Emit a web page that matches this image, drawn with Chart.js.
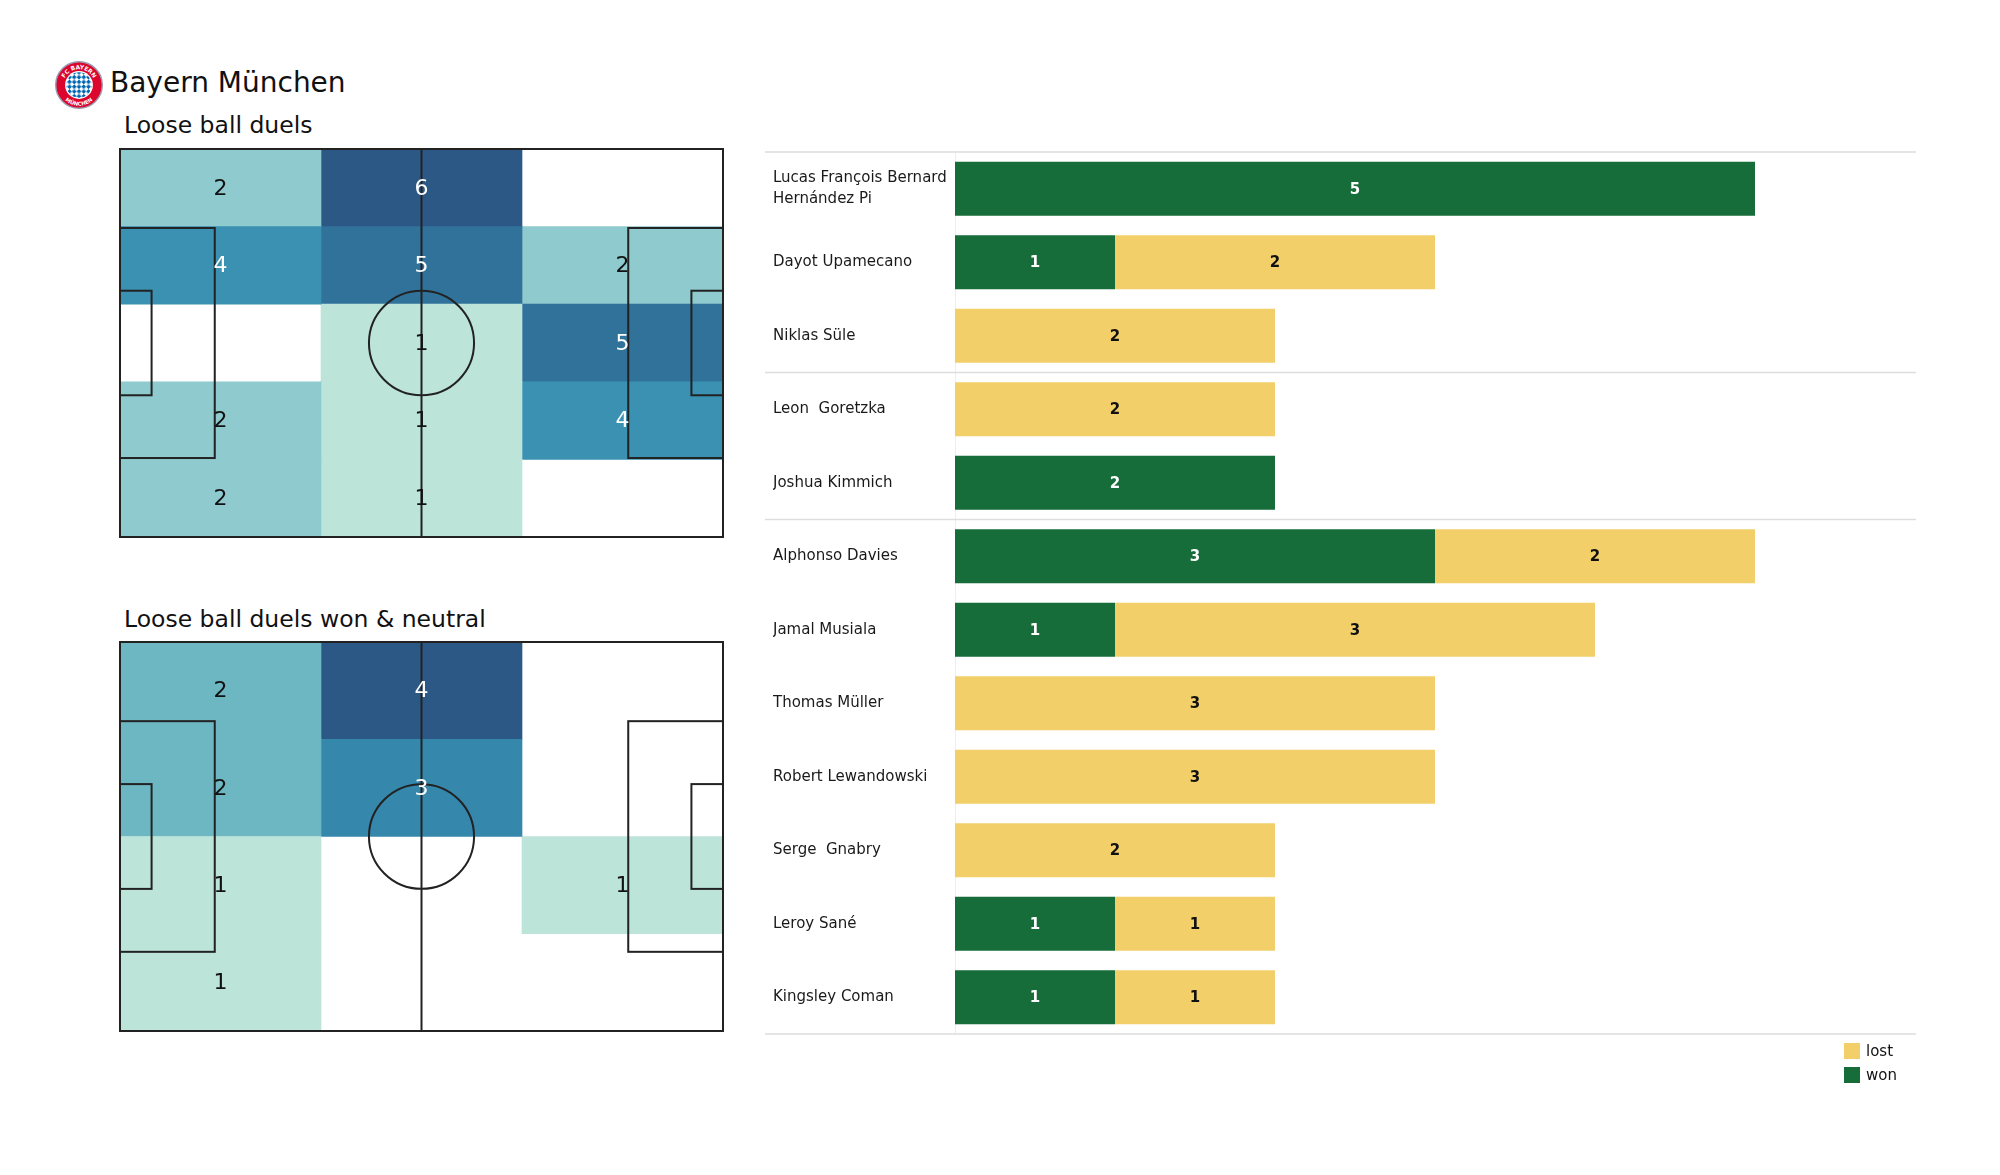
<!DOCTYPE html>
<html>
<head>
<meta charset="utf-8">
<script src="https://cdn.jsdelivr.net/npm/chart.js@4"></script>
<style>
  html, body { margin: 0; padding: 0; background: #fff; }
  body { width: 2000px; height: 1175px; position: relative; overflow: hidden; font-family: "DejaVu Sans", sans-serif; color: #111; }
  .abs { position: absolute; }
  .title { left: 110px; top: 64px; font-size: 28px; line-height: 38px; white-space: nowrap; }
  .sub { left: 124px; font-size: 23.5px; line-height: 30px; white-space: nowrap; }
  .leg { left: 1844px; font-size: 15px; line-height: 16px; white-space: nowrap; }
  .leg span { display: inline-block; width: 16px; height: 16px; vertical-align: top; margin-right: 6px; }
</style>
</head>
<body>
<svg class="abs" style="left:55px;top:61px" width="48" height="48" viewBox="0 0 100 100">
  <defs>
    <path id="arcTop" d="M 17,50 A 33,33 0 1,1 83,50"/>
    <path id="arcBot" d="M 7,50 A 43,43 0 0,0 93,50"/>
    <pattern id="rauten" width="14" height="14" patternUnits="userSpaceOnUse" patternTransform="rotate(45 50 50)">
      <rect width="14" height="14" fill="#fff"/>
      <rect width="7" height="7" fill="#0066b2"/>
      <rect x="7" y="7" width="7" height="7" fill="#0066b2"/>
    </pattern>
  </defs>
  <circle cx="50" cy="50" r="48.5" fill="#dc052d" stroke="#9a9ab0" stroke-width="3"/>
  <circle cx="50" cy="50" r="29" fill="#fff"/>
  <circle cx="50" cy="50" r="26.5" fill="url(#rauten)"/>
  <text font-size="12" font-weight="bold" fill="#fff" font-family="DejaVu Sans" text-anchor="middle"><textPath href="#arcTop" startOffset="50%">FC BAYERN</textPath></text>
  <text font-size="11" font-weight="bold" fill="#fff" font-family="DejaVu Sans" text-anchor="middle"><textPath href="#arcBot" startOffset="50%">MÜNCHEN</textPath></text>
</svg>
<div class="abs title">Bayern München</div>
<div class="abs sub" style="top:110px">Loose ball duels</div>
<div class="abs sub" style="top:604px">Loose ball duels won &amp; neutral</div>

<canvas id="pitch1" class="abs" style="left:116px;top:145px" width="611" height="396"></canvas>
<canvas id="pitch2" class="abs" style="left:116px;top:638px" width="611" height="397"></canvas>
<canvas id="bars" class="abs" style="left:765px;top:140px" width="1155" height="906"></canvas>

<div class="abs leg" style="top:1043px"><span style="background:#f2cf68"></span>lost</div>
<div class="abs leg" style="top:1067px"><span style="background:#166d3a"></span>won</div>

<script>
// ---------- DATA ----------
// Loose ball duels: counts per zone, rows top -> bottom, by pitch third
const duelsLeft   = [2, 4, 0, 2, 2];
const duelsMiddle = [6, 5, 1, 1, 1];
const duelsRight  = [0, 2, 5, 4, 0];
// Loose ball duels won & neutral
const wonNeutralLeft   = [2, 2, 1, 1];
const wonNeutralMiddle = [4, 3, 0, 0];
const wonNeutralRight  = [0, 0, 1, 0];

const players = [
  ['Lucas François Bernard', 'Hernández Pi'],
  'Dayot Upamecano',
  'Niklas Süle',
  'Leon  Goretzka',
  'Joshua Kimmich',
  'Alphonso Davies',
  'Jamal Musiala',
  'Thomas Müller',
  'Robert Lewandowski',
  'Serge  Gnabry',
  'Leroy Sané',
  'Kingsley Coman'
];
const won  = [5, 1, 0, 0, 2, 3, 1, 0, 0, 0, 1, 1];
const lost = [0, 2, 2, 2, 0, 2, 3, 3, 3, 2, 1, 1];
const groupSizes = [3, 2, 7];

// ---------- STYLE ----------
const GREEN = '#166d3a';
const YELLOW = '#f2cf68';
const LINE = '#222222';
const FONT = 'DejaVu Sans';
const cmapStops = [
  [0.0, '#bde4d9'], [0.2, '#8ecace'], [0.333, '#6db7c3'], [0.6, '#3a91b2'],
  [0.667, '#3587ac'], [0.8, '#30729a'], [1.0, '#2c5886']
];
function hex2rgb(h) { return [1, 3, 5].map(i => parseInt(h.substr(i, 2), 16)); }
function cmap(t) {
  t = Math.max(0, Math.min(1, t));
  for (let i = 1; i < cmapStops.length; i++) {
    const [t1, c1] = cmapStops[i];
    const [t0, c0] = cmapStops[i - 1];
    if (t <= t1) {
      const f = (t - t0) / (t1 - t0);
      const a = hex2rgb(c0), b = hex2rgb(c1);
      return 'rgb(' + a.map((v, k) => Math.round(v + (b[k] - v) * f)).join(',') + ')';
    }
  }
  return cmapStops[cmapStops.length - 1][1];
}

// ---------- PITCH HEATMAPS ----------
const PL = 105, PW = 68;
const pitchPlugin = {
  id: 'pitchPlugin',
  afterDatasetsDraw(chart) {
    const { ctx, chartArea: a, scales: { x } } = chart;
    const px = m => x.getPixelForValue(m);
    const py = m => a.top + (m / PW) * (a.bottom - a.top);
    ctx.save();
    ctx.strokeStyle = LINE;
    ctx.lineWidth = 2;
    ctx.strokeRect(px(0), py(0), px(PL) - px(0), py(PW) - py(0));
    ctx.beginPath();
    ctx.moveTo(px(PL / 2), py(0));
    ctx.lineTo(px(PL / 2), py(PW));
    ctx.stroke();
    ctx.beginPath();
    ctx.ellipse(px(PL / 2), py(PW / 2), px(9.15) - px(0), py(9.15) - py(0), 0, 0, Math.PI * 2);
    ctx.stroke();
    const box = (depth, width) => {
      const y0 = (PW - width) / 2, y1 = (PW + width) / 2;
      ctx.strokeRect(px(0), py(y0), px(depth) - px(0), py(y1) - py(y0));
      ctx.strokeRect(px(PL - depth), py(y0), px(PL) - px(PL - depth), py(y1) - py(y0));
    };
    box(16.5, 40.32);
    box(5.5, 18.32);
    // values
    ctx.font = '22px "' + FONT + '"';
    ctx.textAlign = 'center';
    ctx.textBaseline = 'middle';
    chart.data.datasets.forEach((ds, di) => {
      const meta = chart.getDatasetMeta(di);
      meta.data.forEach((el, i) => {
        const v = ds.counts[i];
        if (!v) return;
        const c = el.getCenterPoint();
        ctx.fillStyle = ds.norms[i] >= 0.5 ? '#ffffff' : '#111111';
        ctx.fillText(String(v), c.x, c.y + 1);
      });
    });
    ctx.restore();
  }
};

function makePitch(id, columns) {
  const rows = columns[0].length;
  const max = Math.max(...columns.flat());
  const colW = PL / columns.length;
  const labels = Array.from({ length: rows }, (_, i) => 'zone ' + (i + 1));
  const datasets = columns.map((vals, c) => {
    const norms = vals.map(v => (v - 1) / (max - 1));
    return {
      data: vals.map(v => v > 0 ? [c * colW, (c + 1) * colW] : null),
      counts: vals,
      norms: norms,
      backgroundColor: norms.map(t => cmap(t)),
      borderWidth: 0,
      barPercentage: 1,
      categoryPercentage: 1,
      grouped: false
    };
  });
  new Chart(document.getElementById(id), {
    type: 'bar',
    data: { labels, datasets },
    options: {
      indexAxis: 'y',
      responsive: false,
      animation: false,
      layout: { padding: 4 },
      plugins: { legend: { display: false }, tooltip: { enabled: false } },
      scales: {
        x: { type: 'linear', min: 0, max: PL, display: false },
        y: { type: 'category', display: false }
      }
    },
    plugins: [pitchPlugin]
  });
}
makePitch('pitch1', [duelsLeft, duelsMiddle, duelsRight]);
makePitch('pitch2', [wonNeutralLeft, wonNeutralMiddle, wonNeutralRight]);

// ---------- PLAYER BARS ----------
const barExtras = {
  id: 'barExtras',
  beforeDatasetsDraw(chart) {
    const { ctx, scales: { y, x } } = chart;
    const bounds = [0];
    groupSizes.forEach(g => bounds.push(bounds[bounds.length - 1] + g));
    ctx.save();
    ctx.strokeStyle = '#dddddd';
    ctx.lineWidth = 1.5;
    bounds.forEach(b => {
      const yy = y.getPixelForValue(b - 0.5);
      ctx.beginPath();
      ctx.moveTo(0, yy);
      ctx.lineTo(x.right + 1, yy);
      ctx.stroke();
    });
    ctx.restore();
  },
  afterDatasetsDraw(chart) {
    const { ctx } = chart;
    ctx.save();
    ctx.font = 'bold 15px "' + FONT + '"';
    ctx.textAlign = 'center';
    ctx.textBaseline = 'middle';
    chart.data.datasets.forEach((ds, di) => {
      chart.getDatasetMeta(di).data.forEach((el, i) => {
        const v = ds.data[i];
        if (!v) return;
        const c = el.getCenterPoint();
        ctx.fillStyle = ds.valueColor;
        ctx.fillText(String(v), c.x, c.y + 1);
      });
    });
    ctx.restore();
  }
};

new Chart(document.getElementById('bars'), {
  type: 'bar',
  data: {
    labels: players,
    datasets: [
      { label: 'won', data: won, backgroundColor: GREEN, valueColor: '#ffffff' },
      { label: 'lost', data: lost, backgroundColor: YELLOW, valueColor: '#111111' }
    ]
  },
  options: {
    indexAxis: 'y',
    responsive: false,
    animation: false,
    layout: { padding: { left: 8, right: 5, top: 12, bottom: 12 } },
    datasets: { bar: { categoryPercentage: 1, barPercentage: 0.735, borderWidth: 0 } },
    plugins: { legend: { display: false }, tooltip: { enabled: false } },
    scales: {
      x: { stacked: true, min: 0, max: 6, display: false },
      y: {
        stacked: true,
        grid: { display: false },
        border: { display: true, color: '#eeeeee', width: 1 },
        ticks: {
          crossAlign: 'far',
          padding: 0,
          color: '#1a1a1a',
          font: { family: FONT, size: 15, lineHeight: 1.4 }
        },
        afterFit(scale) { scale.width = 182; scale.paddingTop = 0; scale.paddingBottom = 0; }
      }
    }
  },
  plugins: [barExtras]
});
</script>
</body>
</html>
